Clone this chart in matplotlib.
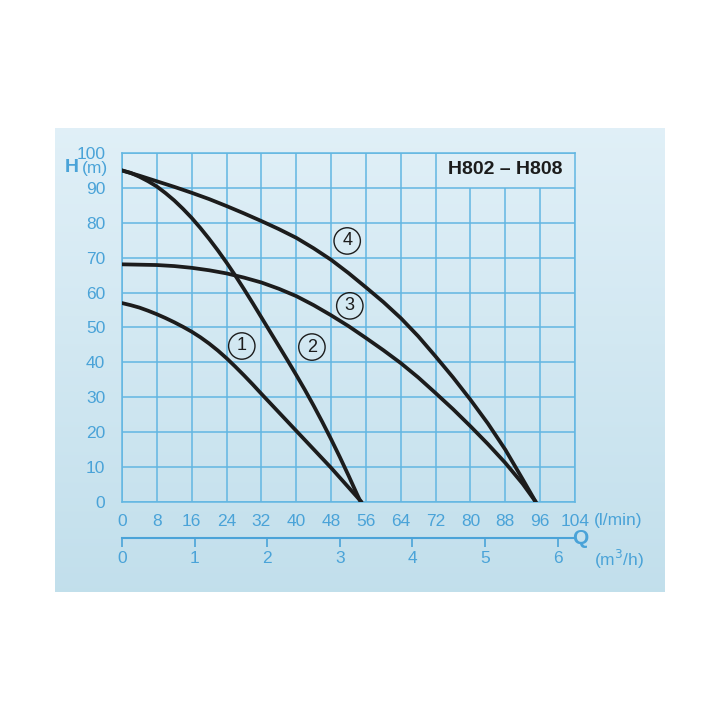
import numpy as np
import matplotlib.pyplot as plt

plt.rcParams['font.family'] = ['Liberation Sans', 'DejaVu Sans']

# pump curves, Q in l/min, H in m
q1 = [0, 2, 4, 6, 8, 10, 12, 14, 16, 18, 20, 22, 24, 26, 28, 30, 32,
      36, 40, 44, 48, 52, 55]
h1 = [57, 56.4, 55.7, 54.8, 53.8, 52.7, 51.5, 50.2, 48.8, 47.2, 45.4, 43.4, 41.2,
      38.8, 36.3, 33.7, 31.0, 25.7, 20.4, 15.1, 9.8, 4.2, 0]

q2 = [0, 2, 4, 6, 8, 10, 12, 14, 16, 18, 20, 22, 24, 26, 28, 30, 32, 34, 36,
      38, 40, 42, 44, 46, 48, 50, 52, 54, 54.8]
h2 = [95, 94.3, 93.2, 91.9, 90.4, 88.5, 86.4, 84, 81.4, 78.5, 75.4, 72.1, 68.6,
      64.9, 61.0, 57.0, 52.9, 48.8, 44.7, 40.6, 36.4, 32.1, 27.6, 22.9, 18.0, 12.9,
      7.6, 2.1, 0]

q3 = [0, 4, 8, 12, 16, 20, 24, 28, 32, 36, 40, 44, 48, 52, 56, 60, 64, 68,
      72, 76, 80, 84, 88, 92, 95]
h3 = [68.1, 68, 67.9, 67.6, 67.1, 66.4, 65.5, 64.3, 62.9, 61.1, 59, 56.4, 53.5,
      50.4, 47, 43.5, 39.8, 35.7, 31.2, 26.6, 21.7, 16.6, 11.2, 5.2, 0]

q4 = [0, 4, 8, 12, 16, 20, 24, 28, 32, 36, 40, 44, 48, 52, 56, 60, 64, 68,
      72, 76, 80, 84, 88, 92, 95]
h4 = [95, 93.5, 91.9, 90.3, 88.6, 86.8, 84.8, 82.7, 80.5, 78.2, 75.7, 72.7, 69.4,
      65.6, 61.5, 57.3, 52.7, 47.5, 41.7, 35.7, 29.3, 22.5, 15, 6.5, 0]

curve_names = ["1", "2", "3", "4"]
label_q = [27.5, 43.6, 52.3, 51.7]
label_h = [44.7, 44.4, 56.2, 74.8]

q_ticks = list(range(0, 105, 8))
h_ticks = list(range(0, 101, 10))
m3h_ticks = list(range(0, 7))

blue = '#4aa3d8'
grid_blue = '#62b6e2'
ink = '#1c1c1c'

fig = plt.figure(figsize=(7.2, 7.2), dpi=100)

# light blue gradient panel
bg = fig.add_axes([55/720, 1-592/720, 610/720, 464/720], zorder=-10)
grad = np.linspace(0, 1, 256).reshape(-1, 1)
top = np.array([0.88, 0.94, 0.97])
bot = np.array([0.76, 0.875, 0.925])
img = top + (bot - top) * grad[:, :, None]
bg.imshow(img, aspect='auto', extent=[0, 1, 0, 1])
bg.axis('off')

ax = fig.add_axes([122/720, 1-502/720, 453/720, 349/720])
ax.patch.set_alpha(0)
ax.set_xlim(0, 104)
ax.set_ylim(0, 100)

# grid (the title box hides the upper-right cells)
for x in q_ticks:
    ax.vlines(x, 0, 100 if x <= 72 else 90, color=grid_blue, lw=1.1, zorder=1)
for y in h_ticks:
    ax.hlines(y, 0, 104, color=grid_blue, lw=1.1, zorder=1)
for s in ax.spines.values():
    s.set_color(grid_blue)
    s.set_linewidth(1.1)

for q, h in [(q1, h1), (q2, h2), (q3, h3), (q4, h4)]:
    ax.plot(q, h, color=ink, lw=2.7, solid_capstyle='round',
            solid_joinstyle='round', zorder=3)

for name, lq, lh in zip(curve_names, label_q, label_h):
    ax.annotate(name, (lq, lh), ha='center', va='center', fontsize=13, color=ink,
                bbox=dict(boxstyle='circle,pad=0.26', fc='none', ec=ink, lw=1.0), zorder=4)

ax.text(88, 95.4, 'H802 – H808', ha='center', va='center', fontsize=14,
        fontweight='bold', color=ink)

ax.set_xticks(q_ticks)
ax.set_yticks(h_ticks)
ax.tick_params(length=0, labelsize=12.5, labelcolor=blue)
ax.tick_params(axis='x', pad=9)
ax.tick_params(axis='y', pad=12)

fig.text(108/720, 1-168/720, '(m)', ha='right', va='center', fontsize=12.5, color=blue)
fig.text(79/720, 1-168/720, 'H', ha='right', va='center', fontsize=14, color=blue,
         fontweight='bold')
fig.text(594/720, 1-521/720, '(l/min)', ha='left', va='center', fontsize=12.5, color=blue)
fig.text(594/720, 1-559/720, '(m$^3$/h)', ha='left', va='center', fontsize=12.5, color=blue)
fig.text(580/720, 1-538/720, 'Q', ha='center', va='center', fontsize=15, color=blue,
         fontweight='bold')

sec = ax.secondary_xaxis(-36/349, functions=(lambda q: q * 0.06, lambda m: m / 0.06))
sec.set_xticks(m3h_ticks)
sec.spines['bottom'].set_color(blue)
sec.spines['bottom'].set_linewidth(1.5)
sec.tick_params(direction='out', length=6.5, width=1.2, color=blue,
                labelcolor=blue, labelsize=12.5, pad=3)

fig.savefig('out.png', dpi=100)
